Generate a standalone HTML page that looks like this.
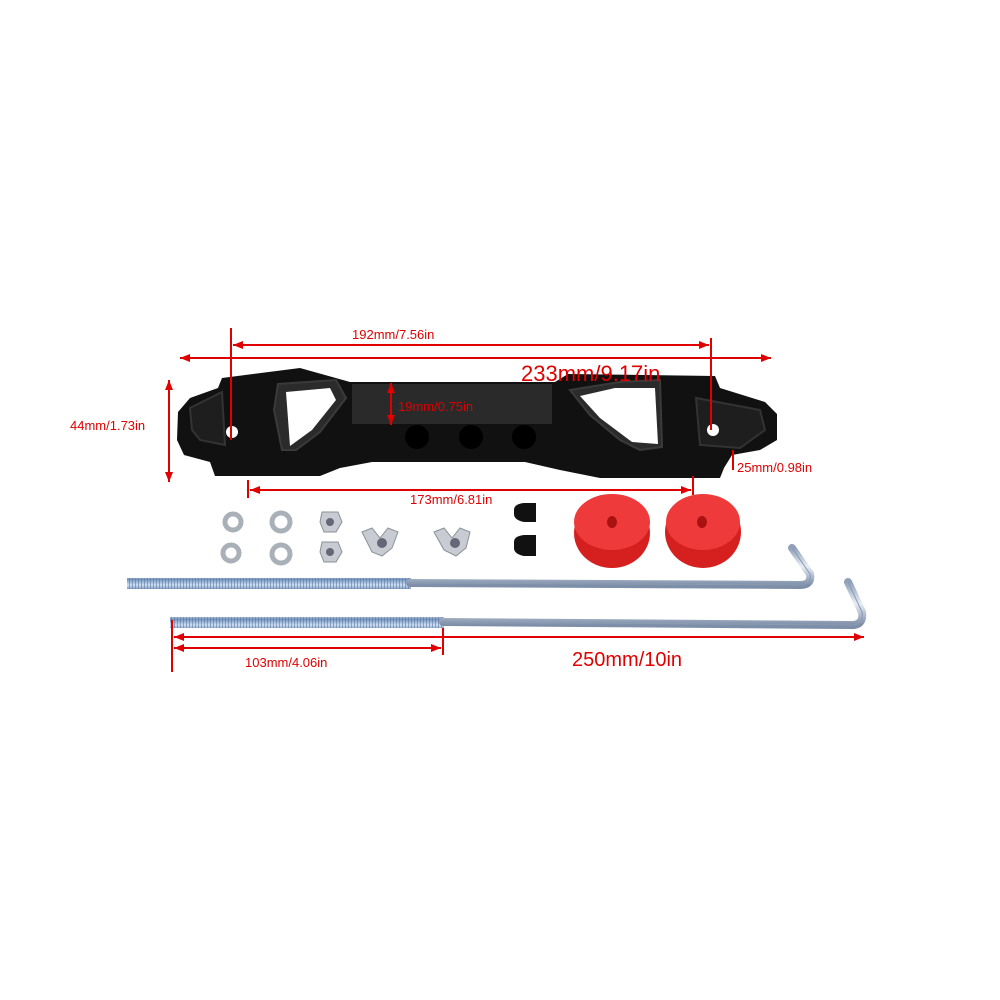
<!DOCTYPE html>
<html><head><meta charset="utf-8"><style>html,body{margin:0;padding:0;background:#fff}svg{display:block}text{font-family:"Liberation Sans",sans-serif;fill:#e00000}</style></head><body>
<svg width="1000" height="1000" viewBox="0 0 1000 1000" xmlns="http://www.w3.org/2000/svg">
<defs>
<marker id="a" viewBox="0 0 10 10" refX="10" refY="5" markerWidth="5" markerHeight="5" orient="auto-start-reverse"><path d="M0,1 L10,5 L0,9z" fill="#e00000"/></marker>
<linearGradient id="rod" x1="0" y1="0" x2="0" y2="1"><stop offset="0" stop-color="#8fa0b8"/><stop offset=".5" stop-color="#e8eef6"/><stop offset="1" stop-color="#7d8ea8"/></linearGradient>
<linearGradient id="thr" x1="0" y1="0" x2="0" y2="1"><stop offset="0" stop-color="#7f9ec8"/><stop offset=".5" stop-color="#cfe0f4"/><stop offset="1" stop-color="#6f8cb4"/></linearGradient>
<pattern id="th" width="3" height="10" patternUnits="userSpaceOnUse"><rect width="3" height="10" fill="url(#thr)"/><rect width="1" height="10" fill="#5d7aa4" opacity=".6"/></pattern>
</defs>
<!-- bar -->
<polygon points="178,412 190,398 218,388 222,378 300,368 350,382 555,382 568,374 715,376 720,388 765,402 777,414 777,440 760,450 732,455 724,468 720,478 600,478 560,470 525,462 430,462 372,462 340,468 320,476 215,476 210,462 184,455 177,440" fill="#111"/>
<polygon points="190,408 222,392 225,445 200,440 192,430" fill="#1e1e1e" stroke="#333" stroke-width="2"/>
<polygon points="278,384 336,380 346,398 320,432 296,450 282,450 274,410" fill="#2b2b2b" stroke="#3a3a3a" stroke-width="2"/>
<polygon points="286,392 330,388 336,400 312,430 290,446" fill="#fff"/>
<polygon points="570,390 620,382 660,380 662,447 640,450 620,440 590,415" fill="#2b2b2b" stroke="#3a3a3a" stroke-width="2"/>
<polygon points="580,396 615,388 655,388 658,444 632,442 600,418" fill="#fff"/>
<polygon points="696,398 760,410 765,430 740,448 700,445" fill="#1e1e1e" stroke="#333" stroke-width="2"/>
<rect x="352" y="384" width="200" height="40" fill="#2a2a2a"/>
<circle cx="232" cy="432" r="6" fill="#fff"/>
<circle cx="713" cy="430" r="6" fill="#fff"/>
<circle cx="417" cy="437" r="12" fill="#000"/>
<circle cx="471" cy="437" r="12" fill="#000"/>
<circle cx="524" cy="437" r="12" fill="#000"/>
<!-- washers -->
<g fill="none" stroke="#aab0b8" stroke-width="5">
<circle cx="233" cy="522" r="8"/><circle cx="281" cy="522" r="9"/>
<circle cx="231" cy="553" r="8"/><circle cx="281" cy="554" r="9"/>
</g>
<g fill="#c8ccd2" stroke="#8a9098" stroke-width="1">
<polygon points="322,512 338,512 342,522 336,532 324,532 320,522"/>
<polygon points="322,542 338,542 342,552 336,562 324,562 320,552"/>
<polygon points="362,532 372,528 380,538 388,528 398,532 392,548 382,556 372,552"/>
<polygon points="434,532 444,528 452,538 460,528 470,532 466,548 456,556 444,550"/>
</g>
<circle cx="330" cy="522" r="4" fill="#667"/><circle cx="330" cy="552" r="4" fill="#667"/>
<circle cx="382" cy="543" r="5" fill="#667"/><circle cx="455" cy="543" r="5" fill="#667"/>
<!-- caps -->
<path d="M514,510 Q514,504 524,503 L536,503 L536,522 L524,522 Q514,520 514,514z" fill="#111"/>
<path d="M514,542 Q514,536 524,535 L536,535 L536,556 L524,556 Q514,554 514,548z" fill="#111"/>
<!-- red discs -->
<ellipse cx="612" cy="533" rx="38" ry="35" fill="#d62020"/>
<ellipse cx="612" cy="522" rx="38" ry="28" fill="#ee3a3a"/>
<ellipse cx="612" cy="522" rx="5" ry="6" fill="#a11"/>
<ellipse cx="703" cy="532" rx="38" ry="36" fill="#d62020"/>
<ellipse cx="703" cy="522" rx="37" ry="28" fill="#ee3a3a"/>
<ellipse cx="702" cy="522" rx="5" ry="6" fill="#a11"/>
<!-- rods -->
<rect x="127" y="578" width="284" height="11" fill="url(#th)"/>
<path d="M410,583 L800,585 Q812,585 810,574 L792,548" fill="none" stroke="url(#rod)" stroke-width="8" stroke-linecap="round"/>
<path d="M410,583 L800,585 Q812,585 810,574 L792,548" fill="none" stroke="#8a9ab0" stroke-width="1"/>
<rect x="170" y="617" width="274" height="11" fill="url(#th)"/>
<path d="M443,622 L850,625 Q864,626 862,612 L848,582" fill="none" stroke="url(#rod)" stroke-width="8" stroke-linecap="round"/>
<path d="M443,622 L850,625 Q864,626 862,612 L848,582" fill="none" stroke="#8a9ab0" stroke-width="1"/>
<!-- dimensions -->
<g stroke="#e00000" stroke-width="2" fill="none">
<line x1="231" y1="328" x2="231" y2="440"/><line x1="711" y1="338" x2="711" y2="430"/>
<line x1="233" y1="345" x2="709" y2="345" marker-start="url(#a)" marker-end="url(#a)"/>
<line x1="180" y1="358" x2="771" y2="358" marker-start="url(#a)" marker-end="url(#a)"/>
<line x1="169" y1="380" x2="169" y2="482" marker-start="url(#a)" marker-end="url(#a)"/>
<line x1="391" y1="383" x2="391" y2="425" marker-start="url(#a)" marker-end="url(#a)"/>
<line x1="733" y1="450" x2="733" y2="470"/>
<line x1="248" y1="480" x2="248" y2="498"/><line x1="693" y1="476" x2="693" y2="495"/>
<line x1="250" y1="490" x2="691" y2="490" marker-start="url(#a)" marker-end="url(#a)"/>
<line x1="172" y1="620" x2="172" y2="672"/><line x1="443" y1="628" x2="443" y2="655"/>
<line x1="174" y1="637" x2="864" y2="637" marker-start="url(#a)" marker-end="url(#a)"/>
<line x1="174" y1="648" x2="441" y2="648" marker-start="url(#a)" marker-end="url(#a)"/>
</g>
<g stroke="none">
<text x="352" y="339" font-size="13">192mm/7.56in</text>
<text x="521" y="381" font-size="22">233mm/9.17in</text>
<text x="70" y="430" font-size="13">44mm/1.73in</text>
<text x="398" y="411" font-size="13">19mm/0.75in</text>
<text x="737" y="472" font-size="13">25mm/0.98in</text>
<text x="410" y="504" font-size="13">173mm/6.81in</text>
<text x="245" y="667" font-size="13">103mm/4.06in</text>
<text x="572" y="666" font-size="20">250mm/10in</text>
</g>
</svg>
</body></html>
